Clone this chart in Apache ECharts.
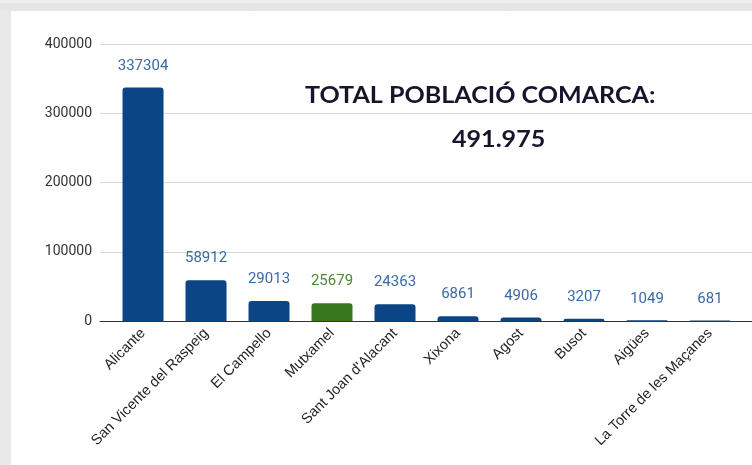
<!DOCTYPE html>
<html>
<head>
<meta charset="utf-8">
<script src="https://cdn.jsdelivr.net/npm/echarts@6/dist/echarts.min.js"></script>
<style>
  html, body { margin: 0; padding: 0; }
  body {
    width: 752px; height: 465px; overflow: hidden; position: relative;
    background: linear-gradient(to bottom, #f0f0f0 0, #f0f0f0 3px, #e4e4e4 3px, #e6e6e6 11px, #e9e9e9 11px);
  }
  .panel { position: absolute; left: 11px; top: 11px; right: 0; bottom: 0; background: #fff; }
  #chart { position: absolute; left: 0; top: 0; width: 752px; height: 465px; }
</style>
</head>
<body>
<div class="panel"></div>
<div id="chart"></div>
<script>
const municipis = ['Alicante', 'San Vicente del Raspeig', 'El Campello', 'Mutxamel',
  "Sant Joan d'Alacant", 'Xixona', 'Agost', 'Busot', 'Aigües', 'La Torre de les Maçanes']
const poblacio = [337304, 58912, 29013, 25679, 24363, 6861, 4906, 3207, 1049, 681]
const yTicks = [0, 100000, 200000, 300000, 400000]
const titol = 'TOTAL POBLACIÓ COMARCA:'
const total = '491.975'

const blau = '#0b4586'
const verd = '#38761d'

const chart = echarts.init(document.getElementById('chart'))

chart.setOption({
  backgroundColor: 'transparent',
  animation: false,
  grid: { left: 100, right: 0, top: 44, bottom: 144 },
  xAxis: {
    type: 'value',
    min: -0.683,
    max: 9.667,
    splitLine: { show: false },
    axisLine: { show: true, onZero: false, lineStyle: { color: '#333', width: 1 } },
    axisTick: { show: false },
    axisLabel: {
      customValues: municipis.map((_, i) => i),
      formatter: (v) => municipis[Math.round(v)] ?? '',
      rotate: 45,
      margin: 10,
      color: '#222',
      fontFamily: 'Liberation Sans, Arial, sans-serif',
      fontSize: 14.5,
    },
  },
  yAxis: {
    type: 'value',
    min: yTicks[0],
    max: yTicks[yTicks.length - 1],
    interval: 100000,
    axisLine: { show: false },
    axisTick: { show: false },
    splitLine: { lineStyle: { color: '#d9d9d9', width: 1 } },
    axisLabel: {
      margin: 8,
      color: '#333',
      fontFamily: 'Roboto, sans-serif',
      fontSize: 14,
      formatter: (v) => String(v),
    },
  },
  series: [
    {
      type: 'bar',
      barWidth: 41,
      data: poblacio.map((v, i) => ({
        value: [i, v],
        itemStyle: { color: municipis[i] === 'Mutxamel' ? verd : blau },
        label: { color: municipis[i] === 'Mutxamel' ? '#4a8a32' : '#3b6aa6' },
      })),
      itemStyle: { borderRadius: [3, 3, 0, 0] },
      label: {
        show: true,
        position: 'top',
        distance: 14,
        fontFamily: 'Roboto, sans-serif',
        fontSize: 15,
        formatter: (p) => p.value[1],
      },
    },
  ],
  graphic: [
    {
      type: 'text',
      x: 305,
      y: 96,
      scaleX: 1.14,
      style: {
        text: titol,
        align: 'left',
        verticalAlign: 'middle',
        font: 'bold 22px Lato, "Open Sans", sans-serif',
        fill: '#16152b',
      },
    },
    {
      type: 'text',
      x: 452,
      y: 140,
      scaleX: 1.14,
      style: {
        text: total,
        align: 'left',
        verticalAlign: 'middle',
        font: 'bold 22px Lato, "Open Sans", sans-serif',
        fill: '#16152b',
      },
    },
  ],
})
</script>
</body>
</html>
